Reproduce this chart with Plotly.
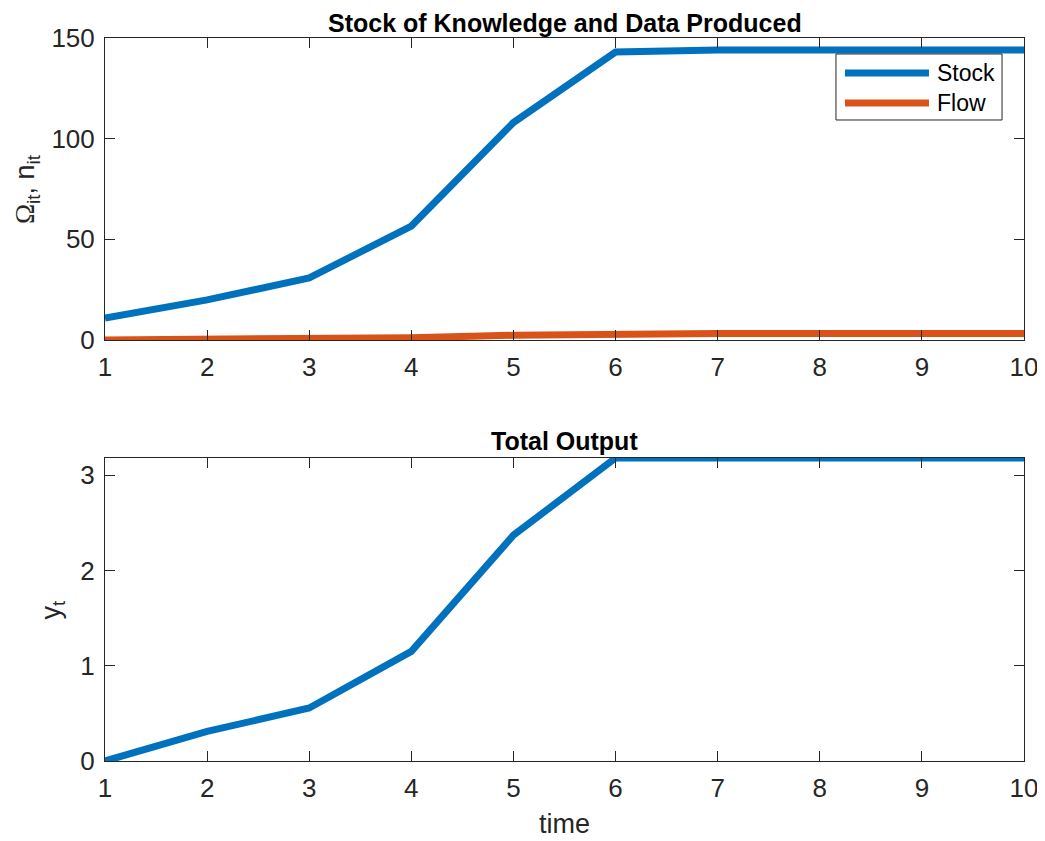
import plotly.graph_objects as go

time = [1, 2, 3, 4, 5, 6, 7, 8, 9, 10]
stock = [10.9, 19.9, 30.8, 56.6, 108.0, 143.0, 144.0, 144.0, 144.0, 144.0]
flow = [0.0, 0.3, 0.55, 1.15, 2.36, 3.18, 3.18, 3.18, 3.18, 3.18]
output = [0.0, 0.31, 0.556, 1.15, 2.37, 3.18, 3.18, 3.18, 3.18, 3.18]
legend_names = ["Stock", "Flow"]

blue = "#0072BD"
orange = "#D95319"
axc = "#262626"
font = "Liberation Sans, Arial, Helvetica, sans-serif"

fig = go.Figure()
fig.add_trace(go.Scatter(x=time, y=stock, mode="lines", name=legend_names[0], showlegend=False,
                         line=dict(color=blue, width=7), xaxis="x", yaxis="y"))
fig.add_trace(go.Scatter(x=time, y=flow, mode="lines", name=legend_names[1], showlegend=False,
                         line=dict(color=orange, width=7), xaxis="x", yaxis="y"))
fig.add_trace(go.Scatter(x=time, y=output, mode="lines", name="Output", showlegend=False,
                         line=dict(color=blue, width=7), xaxis="x2", yaxis="y2"))

axis_common = dict(showline=True, linecolor=axc, linewidth=1, mirror="ticks",
                   ticks="inside", ticklen=10, tickcolor=axc, showgrid=False,
                   zeroline=False, automargin=False,
                   tickfont=dict(size=26, color=axc, family=font))

top_dom = [0.5823, 1]
bot_dom = [0, 0.4191]

# manual legend (MATLAB style, long line samples)
lx0, lx1 = 0.7954, 0.9761
ly0, ly1 = 0.8866, 0.9779
line_x0, line_x1 = 0.8052, 0.8966
item_y = [0.9516, 0.9101]
item_col = [blue, orange]

shapes = [dict(type="rect", xref="paper", yref="paper", x0=lx0, x1=lx1, y0=ly0, y1=ly1,
               line=dict(color=axc, width=1), fillcolor="white", layer="above")]
annotations = []
for name, yy, col in zip(legend_names, item_y, item_col):
    shapes.append(dict(type="line", xref="paper", yref="paper", x0=line_x0, x1=line_x1,
                       y0=yy, y1=yy, line=dict(color=col, width=7), layer="above"))
    annotations.append(dict(text=name, x=0.9032, y=yy, xref="paper", yref="paper",
                            xanchor="left", yanchor="middle", showarrow=False,
                            font=dict(size=23, color="black", family=font)))

annotations += [
    dict(text="<b>Stock of Knowledge and Data Produced</b>", x=0.5, y=1.0, xref="paper", yref="paper",
         xanchor="center", yanchor="middle", showarrow=False, yshift=15, borderpad=0,
         font=dict(size=25, color="black", family=font)),
    dict(text="<b>Total Output</b>", x=0.5, y=bot_dom[1], xref="paper", yref="paper",
         xanchor="center", yanchor="middle", showarrow=False, yshift=17, borderpad=0,
         font=dict(size=25, color="black", family=font)),
    dict(text="<span style='font-family:Liberation Serif'>Ω</span><sub>it</sub>, n<sub>it</sub>",
         x=0, y=(top_dom[0] + top_dom[1]) / 2, xref="paper", yref="paper", textangle=-90,
         xanchor="center", yanchor="middle", showarrow=False, xshift=-78,
         font=dict(size=27, color=axc, family=font)),
    dict(text="y<sub>t</sub>", x=0, y=(bot_dom[0] + bot_dom[1]) / 2, xref="paper", yref="paper",
         textangle=-90, xanchor="center", yanchor="middle", showarrow=False, xshift=-52,
         font=dict(size=27, color=axc, family=font)),
    dict(text="time", x=0.5, y=0, xref="paper", yref="paper",
         xanchor="center", yanchor="middle", showarrow=False, yshift=-63,
         font=dict(size=27, color=axc, family=font)),
]

fig.update_layout(
    width=1037, height=833,
    margin=dict(l=97, r=21, t=30, b=80),
    plot_bgcolor="white", paper_bgcolor="white",
    font=dict(family=font, color=axc),
    xaxis=dict(domain=[0, 1], anchor="y", range=[1, 10], tickvals=time, ticklabelstandoff=4, **axis_common),
    yaxis=dict(domain=top_dom, anchor="x", range=[0, 150], tickvals=[0, 50, 100, 150],
               ticklabelstandoff=4, **axis_common),
    xaxis2=dict(domain=[0, 1], anchor="y2", range=[1, 10], tickvals=time, ticklabelstandoff=4, **axis_common),
    yaxis2=dict(domain=bot_dom, anchor="x2", range=[0, 3.18], tickvals=[0, 1, 2, 3],
                ticklabelstandoff=4, **axis_common),
    showlegend=False,
    shapes=shapes,
    annotations=annotations,
)

fig.write_html("out.html")
